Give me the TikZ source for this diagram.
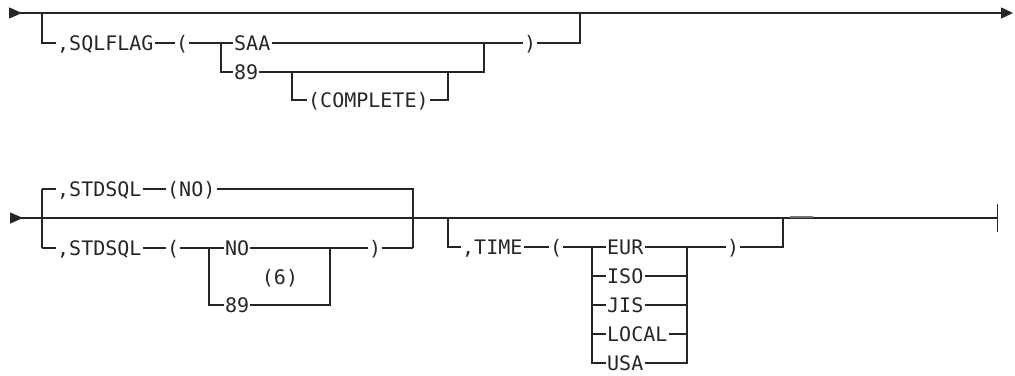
\documentclass[tikz,border=0pt]{standalone}
\usepackage{fontspec}
\newfontfamily\railfont{DejaVu Sans Mono}
\usetikzlibrary{arrows.meta}
\tikzstyle{word}=[font=\railfont\fontsize{20}{23}\selectfont, anchor=west, inner xsep=1pt, inner ysep=0pt, text height=14.6pt, text depth=0pt, text=black!85]
\tikzstyle{rail}=[line width=1.3pt, black!85]

\begin{document}
\begin{tikzpicture}[x=1pt, y=-1pt]
				\useasboundingbox (0,0) rectangle (1015,375);
				% first line
				\coordinate (s1) at (9,13);
				\coordinate (e1) at (1013,13);
				\draw[rail, {Triangle[reversed,length=13pt,width=11pt]}-{Triangle[length=12pt,width=11pt]}] (s1) -- (e1);
				\coordinate (a1) at (42,13);
				\coordinate (a2) at (42,43);
				\coordinate (b1) at (221,43);
				\coordinate (b2) at (221,72);
				\coordinate (c1) at (292,72);
				\coordinate (c2) at (292,100);
				\coordinate (d1) at (448,100);
				\coordinate (d2) at (448,72);
				\coordinate (f1) at (484,72);
				\coordinate (f2) at (484,43);
				\coordinate (g1) at (580,43);
				\coordinate (g2) at (580,13);
				\node[word] (sqlflag) at (56,43) {,SQLFLAG};
				\node[word] (lp1) at (175,43) {(};
				\node[word] (saa) at (233,43) {SAA};
				\node[word] (v89) at (233,72) {89};
				\node[word] (compl) at (307,100) {(COMPLETE)};
				\node[word] (rp1) at (523,43) {)};
				\draw[rail] (a1) -- (a2) -- (sqlflag.west);
				\draw[rail] (sqlflag.east) -- (lp1.west);
				\draw[rail] (lp1.east) -- (saa.west);
				\draw[rail] (b1) -- (b2) -- (v89.west);
				\draw[rail] (saa.east) -- (f2);
				\draw[rail] (v89.east) -- (f1) -- (f2) -- (rp1.west);
				\draw[rail] (c1) -- (c2) -- (compl.west);
				\draw[rail] (compl.east) -- (d1) -- (d2);
				\draw[rail] (rp1.east) -- (g1) -- (g2);
				% second line
				\coordinate (s2) at (10,218);
				\coordinate (e2) at (998,218);
				\draw[rail, {Triangle[reversed,length=13pt,width=11pt]}-{Bar[width=28pt]}] (s2) -- (e2);
				\coordinate (h1) at (42,189);
				\coordinate (h2) at (42,248);
				\coordinate (k1) at (413,189);
				\coordinate (k2) at (413,248);
				\coordinate (m1) at (209,248);
				\coordinate (m2) at (209,305);
				\coordinate (p1) at (330,305);
				\coordinate (p2) at (330,248);
				\node[word] (std1) at (56,189) {,STDSQL};
				\node[word] (no1) at (166,189) {(NO)};
				\node[word] (std2) at (56,248) {,STDSQL};
				\node[word] (lp2) at (166,248) {(};
				\node[word] (no2) at (224,248) {NO};
				\node[word] (n89) at (224,305) {89};
				\node[word] (rp2) at (368,248) {)};
				\node[word, anchor=center] (note) at (280,277) {(6)};
				\draw[rail] (h1) -- (h2);
				\draw[rail] (h1) -- (std1.west);
				\draw[rail] (h2) -- (std2.west);
				\draw[rail] (std1.east) -- (no1.west);
				\draw[rail] (no1.east) -- (k1) -- (k2);
				\draw[rail] (std2.east) -- (lp2.west);
				\draw[rail] (lp2.east) -- (no2.west);
				\draw[rail] (m1) -- (m2) -- (n89.west);
				\draw[rail] (no2.east) -- (p2);
				\draw[rail] (n89.east) -- (p1) -- (p2) -- (rp2.west);
				\draw[rail] (rp2.east) -- (k2);
				% time
				\coordinate (q1) at (448,218);
				\coordinate (q2) at (448,247);
				\coordinate (r1) at (592,247);
				\coordinate (r2) at (592,363);
				\coordinate (t1) at (687,247);
				\coordinate (t2) at (687,363);
				\coordinate (u1) at (783,247);
				\coordinate (u2) at (783,218);
				\node[word] (time) at (461,247) {,TIME};
				\node[word] (lp3) at (549,247) {(};
				\node[word] (eur) at (606,247) {EUR};
				\node[word] (iso) at (606,276) {ISO};
				\node[word] (jis) at (606,305) {JIS};
				\node[word] (local) at (606,334) {LOCAL};
				\node[word] (usa) at (606,363) {USA};
				\node[word] (rp3) at (726,247) {)};
				\draw[rail] (q1) -- (q2) -- (time.west);
				\draw[rail] (time.east) -- (lp3.west);
				\draw[rail] (lp3.east) -- (eur.west);
				\draw[rail] (r1) -- (r2) -- (usa.west);
				\draw[rail] (iso.west -| r1) -- (iso.west);
				\draw[rail] (jis.west -| r1) -- (jis.west);
				\draw[rail] (local.west -| r1) -- (local.west);
				\draw[rail] (eur.east) -- (t1);
				\draw[rail] (iso.east) -- (iso.east -| t1);
				\draw[rail] (jis.east) -- (jis.east -| t1);
				\draw[rail] (local.east) -- (local.east -| t1);
				\draw[rail] (usa.east) -- (t2) -- (t1);
				\draw[rail] (t1) -- (rp3.west);
				\draw[rail] (rp3.east) -- (u1) -- (u2);
				\draw[black!55, line width=2pt] (790,217) -- (813,217);
			\end{tikzpicture}
\end{document}
